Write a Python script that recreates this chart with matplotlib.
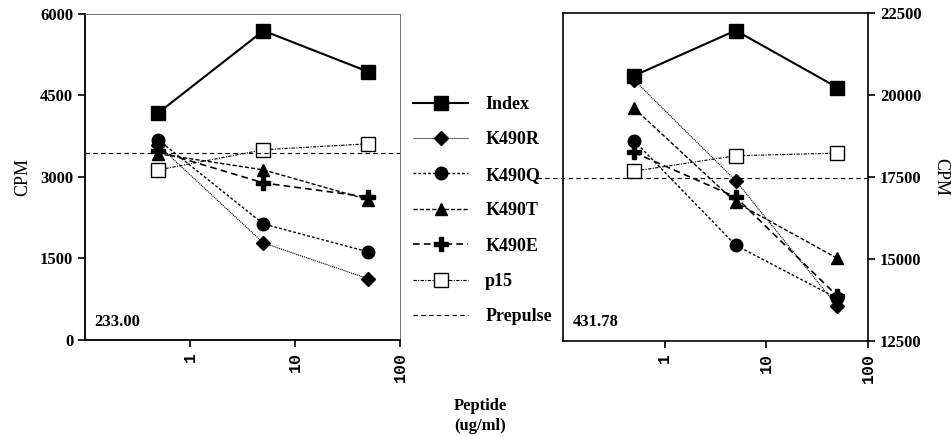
import numpy as np
import matplotlib
matplotlib.use("Agg")
import matplotlib.pyplot as plt

# peptide concentrations (ug/ml)
dose = [0.5, 5, 50]

# left panel (233.00)
left_index = [4180, 5690, 4935]
left_k490r = [3580, 1785, 1125]
left_k490q = [3680, 2135, 1620]
left_k490t = [3425, 3130, 2580]
left_k490e = [3470, 2890, 2630]
left_p15 = [3130, 3500, 3610]
left_prepulse = 3445

# right panel (431.78)
right_index = [20590, 21970, 20230]
right_k490r = [20460, 17390, 13560]
right_k490q = [18610, 15420, 13800]
right_k490t = [19600, 16730, 15020]
right_k490e = [18250, 16890, 13870]
right_p15 = [17680, 18150, 18230]
right_prepulse = 17480

series_names = ["Index", "K490R", "K490Q", "K490T", "K490E", "p15"]

plt.rcParams['font.family'] = ['Liberation Serif', 'DejaVu Serif']
plt.rcParams['font.weight'] = 'bold'
plt.rcParams['font.size'] = 12

styles = [
    dict(marker='s', ms=10, ls='-', lw=1.5, mfc='black'),
    dict(marker='D', ms=7.5, ls=(0, (1, 0.8)), lw=0.8, mfc='black'),
    dict(marker='o', ms=9, ls=(0, (2, 1.5)), lw=1.0, mfc='black'),
    dict(marker='^', ms=9, ls=(0, (3, 1.5)), lw=1.0, mfc='black'),
    dict(marker='P', ms=10, ls=(0, (4, 2.5)), lw=1.2, mfc='black'),
    dict(marker='s', ms=10, ls=(0, (3, 1.2, 1, 1.2)), lw=0.8, mfc='white'),
]

fig = plt.figure(figsize=(9.51, 4.36), dpi=100)
ax1 = fig.add_axes([0.0894, 0.2202, 0.3312, 0.748])
ax2 = fig.add_axes([0.592, 0.2179, 0.3207, 0.752])

left_data = [left_index, left_k490r, left_k490q, left_k490t, left_k490e, left_p15]
right_data = [right_index, right_k490r, right_k490q, right_k490t, right_k490e, right_p15]

handles = []
for name, vals, st in zip(series_names, left_data, styles):
    h, = ax1.plot(dose, vals, color='black', mec='black', label=name, **st)
    handles.append(h)
for vals, st in zip(right_data, styles):
    ax2.plot(dose, vals, color='black', mec='black', **st)

pp1 = ax1.axhline(left_prepulse, color='black', ls=(0, (4, 3)), lw=0.8, label="Prepulse")
ax2.plot([-0.085, 1], [right_prepulse, right_prepulse], color='black', ls=(0, (4, 3)), lw=0.8,
         transform=ax2.get_yaxis_transform(), clip_on=False)
handles.append(pp1)

for ax in (ax1, ax2):
    ax.set_xscale('log')
    ax.set_xlim(0.1, 100)
    ax.set_xticks([1, 10, 100])
    ax.set_xticklabels(["1", "10", "100"], rotation=90, family='Liberation Mono',
                       fontweight='bold', fontsize=13)
    ax.xaxis.set_minor_locator(matplotlib.ticker.NullLocator())
    ax.tick_params(direction='out', length=5, width=1.2, labelsize=12)

ax1.set_ylim(0, 6000)
ax1.set_yticks([0, 1500, 3000, 4500, 6000])
ax1.set_ylabel("CPM", fontsize=13, labelpad=6)
ax1.spines['left'].set_linewidth(1.3)
ax1.spines['bottom'].set_linewidth(1.3)
ax1.spines['top'].set_color('0.45')
ax1.spines['right'].set_color('0.45')
ax1.spines['top'].set_linewidth(0.7)
ax1.spines['right'].set_linewidth(0.7)
ax1.text(0.03, 0.055, "233.00", transform=ax1.transAxes, fontsize=12, va='center')

ax2.set_ylim(12500, 22500)
ax2.set_yticks([12500, 15000, 17500, 20000, 22500])
ax2.yaxis.tick_right()
ax2.yaxis.set_label_position('right')
ax2.set_ylabel("CPM", rotation=270, fontsize=13, labelpad=20)
for s in ax2.spines.values():
    s.set_linewidth(1.2)
ax2.text(0.033, 0.058, "431.78", transform=ax2.transAxes, fontsize=12, va='center')

fig.legend(handles=handles, labels=series_names + ["Prepulse"], loc='center left',
           bbox_to_anchor=(413 / 951, 0.517), frameon=False, borderpad=0, borderaxespad=0,
           handlelength=3.05, handletextpad=0.95, labelspacing=1.02, fontsize=13)

fig.text(480 / 951, 0.046, "Peptide\n(ug/ml)", ha='center', va='center',
         fontsize=12, linespacing=1.35)

fig.savefig("out.png", dpi=100)
